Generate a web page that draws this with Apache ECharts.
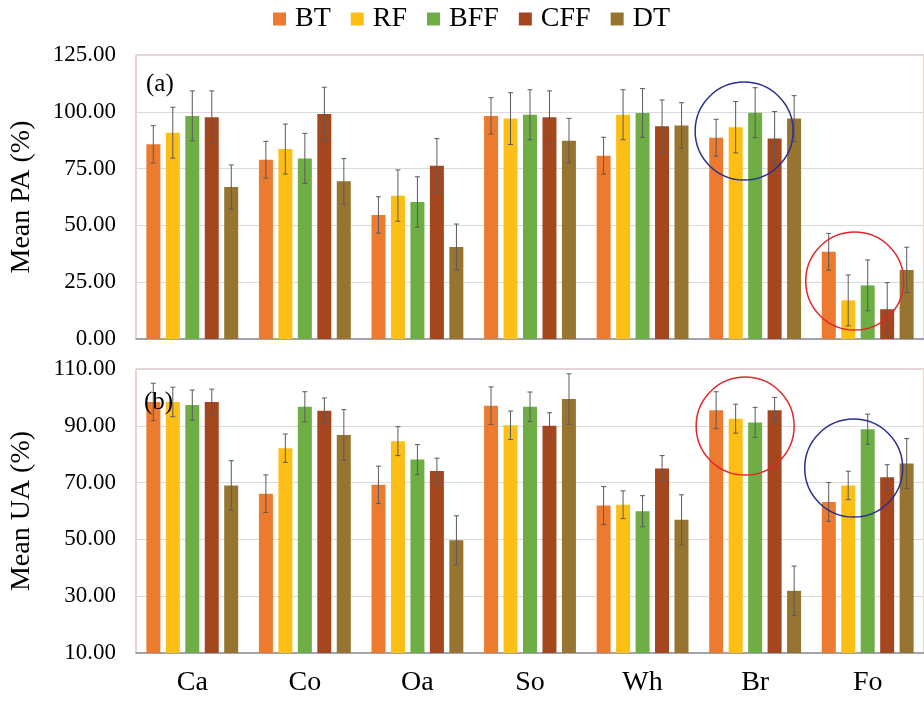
<!DOCTYPE html>
<html>
<head>
<meta charset="utf-8">
<script src="https://cdn.jsdelivr.net/npm/echarts@6/dist/echarts.min.js"></script>
<style>
  html, body { margin: 0; padding: 0; background: #fff; overflow: hidden; }
  #graph { width: 924px; height: 701px; }
</style>
</head>
<body>
<div id="graph"></div>
<script>
const categories = ['Ca', 'Co', 'Oa', 'So', 'Wh', 'Br', 'Fo'];
const methods = ['BT', 'RF', 'BFF', 'CFF', 'DT'];
const colors = ['#EC7B2F', '#FDBF16', '#6FAE45', '#A4471F', '#977430'];

// (a) mean producer's accuracy
const paBT  = [85.7, 78.9, 54.6, 98.2, 80.7, 88.6, 38.4];
const paRF  = [90.8, 83.6, 63.1, 97.0, 98.7, 93.2, 17.0];
const paBFF = [98.2, 79.5, 60.3, 98.7, 99.5, 99.6, 23.6];
const paCFF = [97.6, 99.0, 76.3, 97.6, 93.6, 88.3, 13.1];
const paDT  = [66.9, 69.4, 40.5, 87.3, 94.0, 97.0, 30.4];
const paErrBT  = [8.2, 8.1, 8.0, 8.0, 8.1, 8.1, 8.1];
const paErrRF  = [11.2, 11.0, 11.3, 11.4, 11.0, 11.3, 11.2];
const paErrBFF = [11.0, 11.0, 11.1, 11.0, 10.7, 11.0, 11.2];
const paErrCFF = [11.6, 11.8, 11.9, 11.6, 11.6, 11.8, 11.7];
const paErrDT  = [9.7, 10.0, 10.1, 9.8, 10.0, 10.1, 10.0];

// (b) mean user's accuracy
const uaBT  = [98.4, 66.1, 69.2, 97.1, 61.9, 95.5, 63.2];
const uaRF  = [98.4, 82.1, 84.6, 90.2, 62.2, 92.5, 69.0];
const uaBFF = [97.3, 96.7, 78.1, 96.7, 59.9, 91.2, 88.8];
const uaCFF = [98.4, 95.3, 74.1, 90.0, 75.0, 95.5, 71.9];
const uaDT  = [69.0, 86.8, 49.7, 99.4, 56.9, 31.9, 76.7];
const uaErrBT  = [6.6, 6.6, 6.6, 6.6, 6.7, 6.5, 6.8];
const uaErrRF  = [5.2, 5.0, 5.1, 5.0, 4.9, 5.1, 5.0];
const uaErrBFF = [5.3, 5.3, 5.3, 5.2, 5.5, 5.3, 5.3];
const uaErrCFF = [4.5, 4.5, 4.5, 4.6, 4.5, 4.5, 4.4];
const uaErrDT  = [8.7, 8.9, 8.6, 8.9, 8.8, 8.7, 8.8];

const paTicks = [0, 25, 50, 75, 100, 125];
const uaTicks = [10, 30, 50, 70, 90, 110];

const paData = [paBT, paRF, paBFF, paCFF, paDT];
const paErr = [paErrBT, paErrRF, paErrBFF, paErrCFF, paErrDT];
const uaData = [uaBT, uaRF, uaBFF, uaCFF, uaDT];
const uaErr = [uaErrBT, uaErrRF, uaErrBFF, uaErrCFF, uaErrDT];

const FONT = 'Liberation Serif';
const BAR_W = 14;
const BAR_STEP = 19.5;

function errorRows(vals, errs) {
  const rows = [];
  vals.forEach((arr, s) => {
    arr.forEach((v, i) => rows.push([i, v, errs[s][i], s]));
  });
  return rows;
}

function renderError(params, api) {
  const i = api.value(0), v = api.value(1), e = api.value(2), s = api.value(3);
  const hi = api.coord([i, v + e]);
  const lo = api.coord([i, v - e]);
  const x = hi[0] + (s - 2) * BAR_STEP;
  const st = { stroke: '#5a5a5a', lineWidth: 1 };
  return {
    type: 'group',
    children: [
      { type: 'line', shape: { x1: x, y1: hi[1], x2: x, y2: lo[1] }, style: st },
      { type: 'line', shape: { x1: x - 2.5, y1: hi[1], x2: x + 2.5, y2: hi[1] }, style: st },
      { type: 'line', shape: { x1: x - 2.5, y1: lo[1], x2: x + 2.5, y2: lo[1] }, style: st }
    ]
  };
}

var myChart = echarts.init(document.getElementById('graph'));

const series = [];
methods.forEach((m, s) => {
  series.push({
    name: m, type: 'bar', xAxisIndex: 0, yAxisIndex: 0,
    barWidth: BAR_W, barGap: '39%',
    itemStyle: { color: colors[s] },
    data: paData[s]
  });
  series.push({
    name: m, type: 'bar', xAxisIndex: 1, yAxisIndex: 1,
    barWidth: BAR_W, barGap: '39%',
    itemStyle: { color: colors[s] },
    data: uaData[s]
  });
});
series.push({
  type: 'custom', xAxisIndex: 0, yAxisIndex: 0, z: 5,
  renderItem: renderError, encode: { x: 0, y: 1 },
  data: errorRows(paData, paErr)
});
series.push({
  type: 'custom', xAxisIndex: 1, yAxisIndex: 1, z: 5,
  renderItem: renderError, encode: { x: 0, y: 1 },
  data: errorRows(uaData, uaErr)
});

function yAxisCfg(ticks, name, gridIndex) {
  return {
    type: 'value', gridIndex: gridIndex,
    min: ticks[0], max: ticks[ticks.length - 1],
    interval: ticks[1] - ticks[0],
    name: name, nameLocation: 'middle', nameGap: 100,
    nameTextStyle: { fontFamily: FONT, fontSize: 28, color: '#000' },
    axisLine: { show: false }, axisTick: { show: false },
    axisLabel: {
      fontFamily: FONT, fontSize: 23, color: '#000', margin: 20,
      formatter: v => v.toFixed(2)
    },
    splitLine: { lineStyle: { color: '#dadada', width: 1 } }
  };
}

function xAxisCfg(gridIndex, showLabel) {
  return {
    type: 'category', gridIndex: gridIndex, data: categories,
    axisTick: { show: false },
    axisLine: { lineStyle: { color: '#8a93a3', width: 1.5 } },
    axisLabel: { show: showLabel, fontFamily: FONT, fontSize: 28, color: '#000', margin: 16 }
  };
}

myChart.setOption({
  animation: false,
  backgroundColor: '#fff',
  legend: {
    data: methods, left: 273, top: 5, padding: 0,
    itemWidth: 13, itemHeight: 13, itemGap: 20,
    icon: 'rect',
    textStyle: { fontFamily: FONT, fontSize: 28, color: '#000', padding: [0, 0, 0, 4] }
  },
  grid: [
    { left: 133, right: -4, top: 55, bottom: 362, show: true, borderColor: '#dfa49e', borderWidth: 1 },
    { left: 133, right: -4, top: 369, bottom: 48, show: true, borderColor: '#dfa49e', borderWidth: 1 }
  ],
  xAxis: [xAxisCfg(0, false), xAxisCfg(1, true)],
  yAxis: [yAxisCfg(paTicks, 'Mean PA (%)', 0), yAxisCfg(uaTicks, 'Mean UA (%)', 1)],
  series: series
});

// panel tags and highlight circles (annotations)
const circles = [
  { grid: 0, cat: 'Br', value: 91.5, dx: -11, color: '#2b2f8f' },
  { grid: 0, cat: 'Fo', value: 25.5, dx: -13, color: '#e3262b' },
  { grid: 1, cat: 'Br', value: 89.9, dx: -10, color: '#e3262b' },
  { grid: 1, cat: 'Fo', value: 75.1, dx: -14, color: '#2b2f8f' }
];
const graphics = circles.map(c => {
  const p = myChart.convertToPixel({ gridIndex: c.grid }, [c.cat, c.value]);
  return {
    type: 'circle', z: 100,
    shape: { cx: p[0] + c.dx, cy: p[1], r: 49 },
    style: { fill: 'none', stroke: c.color, lineWidth: 1.5 }
  };
});
graphics.push({ type: 'text', left: 146, top: 72, z: 100,
  style: { text: '(a)', font: '25px "Liberation Serif"', fill: '#000' } });
graphics.push({ type: 'text', left: 144, top: 390, z: 100,
  style: { text: '(b)', font: '25px "Liberation Serif"', fill: '#000' } });
myChart.setOption({ graphic: graphics });
</script>
</body>
</html>
